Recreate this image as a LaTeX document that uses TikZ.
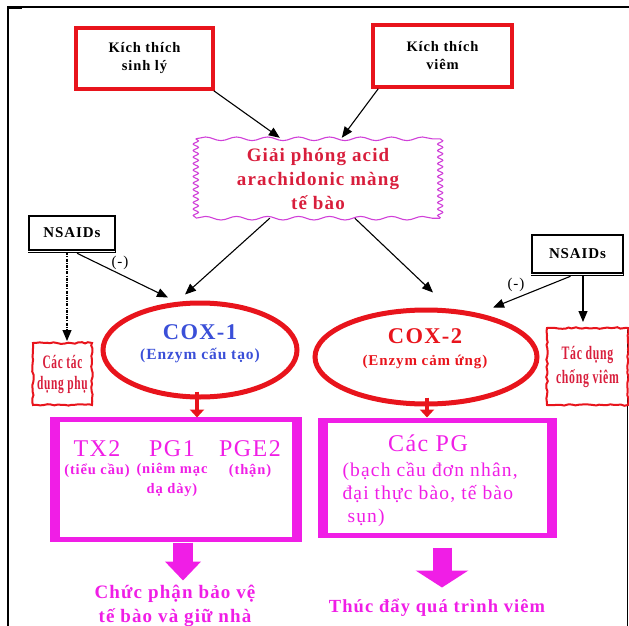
\documentclass[tikz,border=0pt]{standalone}
\usepackage{fontspec}
\setmainfont{Liberation Serif}[LetterSpace=6]
\usetikzlibrary{decorations.pathmorphing,arrows.meta,calc,shapes.geometric}

\definecolor{boxred}{HTML}{E8141C}
\definecolor{inkred}{HTML}{D81E3C}
\definecolor{magen}{HTML}{F01EE6}
\definecolor{coxblue}{HTML}{3A4FD8}
\definecolor{wavepink}{HTML}{D040D8}

\newcommand{\fs}[2]{\fontsize{#1}{#2}\selectfont}

\begin{document}
\begin{tikzpicture}[x=1pt,y=-1pt,
  redbox/.style={draw=boxred, line width=3.5, inner sep=0, align=center,
    font=\bfseries\fs{14.5}{18}},
  nsaid/.style={draw=black, line width=2.5, inner sep=0, font=\bfseries\fs{15}{18}},
  roughbox/.style={draw=boxred, line width=2, inner sep=0, align=center,
    text=inkred, decorate, decoration={random steps, segment length=3.5, amplitude=0.8},
    font=\bfseries\fs{19}{22}},
  coxring/.style={ellipse, draw=boxred, line width=5, inner sep=0},
  pgbox/.style={draw=magen, line width=5, inner sep=0, outer sep=0},
  pgside/.style={draw=magen, line width=10},
  conn/.style={-{Triangle[length=11pt,width=9pt]}, line width=1.1, draw=black},
  smallred/.style={draw=boxred, line width=4, -{Triangle[length=8pt,width=14pt]}},
  wave/.style={draw=wavepink, line width=1.1, decorate},
  magtext/.style={text=magen, align=center}
]
\useasboundingbox (0,0) rectangle (629,626);
\pgfmathsetseed{7}

% frame
\draw[line width=1.2] (7,7) -- (629,7);
\draw[line width=2.6] (8,6.4) -- (8,626);
\draw[line width=2.4] (7,7.5) -- (22,7.5);
\draw[line width=0.9] (627.5,330) -- (627.5,626);

% stimuli
\node[redbox, minimum width=137, minimum height=61] (k1) at (144.5,58.5)
  {Kích thích\\ sinh lý};
\node[redbox, minimum width=139, minimum height=62] (k2) at (442.5,56)
  {Kích thích\\ viêm};

% arachidonic acid release
\node[minimum width=244, minimum height=79, inner sep=0, align=center,
  text=inkred, font=\bfseries\fs{19}{24}] (gp) at (318,178.5)
  {Giải phóng acid\\arachidonic màng\\tế bào};
\draw[wave, decoration={snake, segment length=31, amplitude=1.8}]
  (gp.north west) -- (gp.north east);
\draw[wave, decoration={snake, segment length=31, amplitude=1.8}]
  (gp.south west) -- (gp.south east);
\draw[wave, decoration={snake, segment length=6.5, amplitude=2.6}]
  (gp.north west) -- (gp.south west);
\draw[wave, decoration={snake, segment length=6.5, amplitude=2.6}]
  (gp.north east) -- (gp.south east);

% NSAIDs
\node[nsaid, minimum width=86, minimum height=34] (nsL) at (72,233) {NSAIDs};
\draw[line width=1.5] ($(nsL.north east)+(-1,0)$) -- ($(nsL.south east)+(-1,1)$) -- ($(nsL.south west)+(0,1)$);
\node[nsaid, minimum width=91, minimum height=38] (nsR) at (577.5,254) {NSAIDs};
\draw[line width=1.5] ($(nsR.north east)+(-1,0)$) -- ($(nsR.south east)+(-1,1)$) -- ($(nsR.south west)+(0,1)$);

% effects
\node[roughbox, minimum width=59, minimum height=62] (side) at (62.5,374)
  {\scalebox{0.6}[1]{Các tác}\\[-1pt]\scalebox{0.6}[1]{dụng phụ}};
\node[roughbox, minimum width=81, minimum height=77] (anti) at (587.5,366.5)
  {\scalebox{0.62}[1]{Tác dụng}\\[2pt]\scalebox{0.62}[1]{chống viêm}};

% COX enzymes
\node[coxring, minimum width=194, minimum height=94] (cox1) at (200,350) {};
\node[text=coxblue, font=\bfseries\fs{22.5}{24}] (c1t) at (200,332) {COX-1};
\node[text=coxblue, font=\bfseries\fs{15.5}{18}] (c1s) at (200,356) {(Enzym cấu tạo)};
\node[coxring, minimum width=222, minimum height=94] (cox2) at (426,357) {};
\node[text=boxred, font=\bfseries\fs{22.5}{24}] (c2t) at (425,336) {COX-2};
\node[text=boxred, font=\bfseries\fs{15}{18}] (c2s) at (425,362) {(Enzym cảm ứng)};

% prostaglandin boxes: thin top and bottom, heavy sides
\node[pgbox, minimum width=247, minimum height=120] (pgL) at (176,479.5) {};
\draw[pgside] ($(pgL.north west)+(2.5,-2.5)$) -- ($(pgL.south west)+(2.5,2.5)$);
\draw[pgside] ($(pgL.north east)+(-2.5,-2.5)$) -- ($(pgL.south east)+(-2.5,2.5)$);
\node[pgbox, minimum width=234, minimum height=115] (pgR) at (437.5,478) {};
\draw[pgside] ($(pgR.north west)+(2.5,-2.5)$) -- ($(pgR.south west)+(2.5,2.5)$);
\draw[pgside] ($(pgR.north east)+(-2.5,-2.5)$) -- ($(pgR.south east)+(-2.5,2.5)$);

\node[magtext, font=\fs{24}{24}] (tx) at (97,449) {TX2};
\node[magtext, font=\fs{24}{24}] (pg1) at (172,449) {PG1};
\node[magtext, font=\fs{24}{24}] (pge) at (250,449) {PGE2};
\node[magtext, font=\bfseries\fs{14.5}{20}, anchor=north] (txs) at (97,460) {(tiểu cầu)};
\node[magtext, font=\bfseries\fs{14.5}{20}, anchor=north] (pg1s) at (172,460) {(niêm mạc\\dạ dày)};
\node[magtext, font=\bfseries\fs{14.5}{20}, anchor=north] (pges) at (250,461) {(thận)};

\node[magtext, font=\fs{24}{24}] (cpg) at (428,443) {Các PG};
\node[magtext, align=left, anchor=west, font=\fs{19.5}{23}] (cpgs) at (339,495)
  {(bạch cầu đơn nhân,\\đại thực bào, tế bào\\\hspace*{5pt}sụn)};

% outcomes
\node[magtext, font=\bfseries\fs{19}{24}] (out1) at (175,606)
  {Chức phận bảo vệ\\tế bào và giữ nhà};
\node[magtext, font=\bfseries\fs{18.5}{24}] (out2) at (437,608)
  {Thúc đẩy quá trình viêm};

% connectors
\draw[conn] ($(k1.south east)+(-1,0)$) -- ($(gp.north west)+(84,-1)$);
\draw[conn] ($(k2.south west)+(7,0)$) -- ($(gp.north west)+(146,-1)$);
\draw[conn] ($(gp.south west)+(74,0)$) -- ($(cox1.north)+(-15,-6)$);
\draw[conn] ($(gp.south west)+(159,0)$) -- ($(cox2.north)+(7,-15)$);
\draw[conn] ($(nsL.south)+(5,2)$) -- ($(cox1.north)+(-32,-3)$);
\node[font=\fs{15}{18}] (m1) at (120,263) {(-)};
\draw[conn] ($(nsR.south)+(-7,2)$) -- ($(cox2.north)+(67,0)$);
\node[font=\fs{15}{18}] (m2) at (516,285) {(-)};
\draw[conn] ($(nsR.south)+(5.5,1)$) -- ($(anti.north)+(-4.5,-5)$);
\draw[conn, dash pattern=on 3pt off 1.2pt on 1pt off 1.2pt]
  ($(nsL.south)+(-5,1)$) -- ($(side.north)+(4.5,-1)$);

\draw[smallred] ($(cox1.south)+(-3,-8)$) -- ($(pgL.north)+(21,-2)$);
\draw[smallred] ($(cox2.south)+(1,-9)$) -- ($(pgR.north)+(-10.5,-3)$);

\draw[magen, line width=20, -{Triangle[length=19pt,width=35pt]}]
  ($(pgL.south)+(7,3)$) -- ($(pgL.south)+(7,41)$);
\draw[magen, line width=19, -{Triangle[length=17pt,width=52pt]}]
  ($(pgR.south)+(4.5,12)$) -- ($(pgR.south)+(4.5,52)$);
\end{tikzpicture}
\end{document}
